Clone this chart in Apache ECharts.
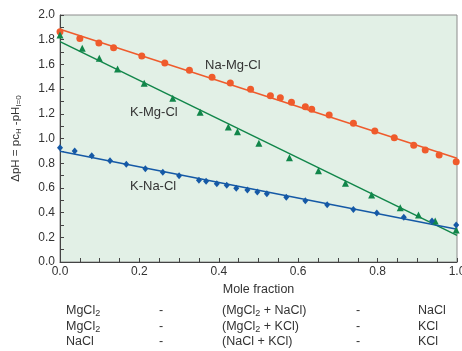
<!DOCTYPE html>
<html><head><meta charset="utf-8">
<script src="https://cdn.jsdelivr.net/npm/echarts@6/dist/echarts.min.js"></script>
<style>html,body{margin:0;padding:0;background:#fff}#c{width:462px;height:351px}</style>
</head><body><div id="c"></div>
<script>
// Na-Mg-Cl (orange circles)
const naMgX = [0.0, 0.05, 0.098, 0.135, 0.206, 0.264, 0.326, 0.383, 0.429, 0.480, 0.530, 0.555, 0.583, 0.618, 0.634, 0.678, 0.739, 0.793, 0.842, 0.891, 0.920, 0.955, 0.998];
const naMgY = [1.865, 1.81, 1.773, 1.735, 1.668, 1.611, 1.552, 1.495, 1.449, 1.398, 1.347, 1.330, 1.293, 1.258, 1.236, 1.19, 1.123, 1.061, 1.006, 0.945, 0.907, 0.866, 0.812];
// K-Mg-Cl (green triangles)
const kMgX = [0.0, 0.056, 0.099, 0.145, 0.212, 0.284, 0.353, 0.424, 0.447, 0.501, 0.578, 0.651, 0.719, 0.785, 0.857, 0.903, 0.945, 0.998];
const kMgY = [1.838, 1.73, 1.649, 1.563, 1.447, 1.325, 1.212, 1.093, 1.055, 0.961, 0.845, 0.739, 0.637, 0.543, 0.44, 0.381, 0.332, 0.259];
// K-Na-Cl (blue diamonds)
const kNaX = [0.0, 0.037, 0.08, 0.126, 0.167, 0.215, 0.259, 0.3, 0.35, 0.368, 0.395, 0.42, 0.444, 0.472, 0.497, 0.521, 0.57, 0.618, 0.673, 0.739, 0.798, 0.866, 0.937, 0.998];
const kNaY = [0.926, 0.899, 0.861, 0.82, 0.791, 0.756, 0.726, 0.699, 0.661, 0.653, 0.634, 0.621, 0.597, 0.583, 0.567, 0.553, 0.524, 0.496, 0.464, 0.426, 0.397, 0.362, 0.332, 0.3];
// Linear fits (end points)
const fitX = [0, 1];
const naMgFitY = [1.885, 0.84];
const kMgFitY = [1.785, 0.215];
const kNaFitY = [0.896, 0.265];
// Labels
const seriesNames = ['Na-Mg-Cl', 'K-Mg-Cl', 'K-Na-Cl'];
const xName = 'Mole fraction';
const tableRows = [
  ['MgCl{s|2}', '-', '(MgCl{s|2} + NaCl)', '-', 'NaCl'],
  ['MgCl{s|2}', '-', '(MgCl{s|2} + KCl)', '-', 'KCl'],
  ['NaCl', '-', '(NaCl + KCl)', '-', 'KCl']
];

const zip = (xs, ys) => xs.map((x, i) => [x, ys[i]]);
const C_OR = '#ef5b2c', C_GR = '#11864a', C_BL = '#1559a6';
const FONT = 'Liberation Sans, Arial, sans-serif';
const TXT = '#333';

const chart = echarts.init(document.getElementById('c'), null, {renderer: 'canvas'});
const fmt1 = v => (Math.abs(v / 0.2 - Math.round(v / 0.2)) < 1e-6) ? v.toFixed(1) : '';

const colX = [66, 159, 222, 356, 418];
const rowY = [311, 327, 342];
const graphics = [];
tableRows.forEach((row, r) => {
  row.forEach((t, c) => {
    graphics.push({
      type: 'text', left: colX[c], top: rowY[r] - 7,
      style: {text: t, fill: TXT, font: '12.5px ' + FONT,
        rich: {s: {fontSize: 9, fontFamily: FONT, fill: TXT, padding: [7, 0, 0, 0]}}}
    });
  });
});
graphics.push({type: 'text', left: 205, top: 59, style: {text: seriesNames[0], fill: TXT, font: '13px ' + FONT}});
graphics.push({type: 'text', left: 130, top: 106, style: {text: seriesNames[1], fill: TXT, font: '13px ' + FONT}});
graphics.push({type: 'text', left: 130, top: 180, style: {text: seriesNames[2], fill: TXT, font: '13px ' + FONT}});

chart.setOption({
  animation: false,
  backgroundColor: '#fff',
  grid: {left: 60, right: 5, top: 15, bottom: 89, containLabel: false, outerBoundsMode: 'none',
    show: true, backgroundColor: '#e2f0e6', borderColor: '#8c8c8c', borderWidth: 1},
  xAxis: {
    type: 'value', min: 0, max: 1, interval: 0.05,
    name: xName, nameLocation: 'middle', nameGap: 20,
    nameTextStyle: {color: TXT, fontSize: 12.5, fontFamily: FONT},
    axisLine: {lineStyle: {color: '#444', width: 1}},
    axisTick: {inside: true, length: 4, lineStyle: {color: '#444'}},
    axisLabel: {formatter: fmt1, color: TXT, fontSize: 12, fontFamily: FONT, margin: 4, showMaxLabel: true, hideOverlap: false},
    splitLine: {show: false}
  },
  yAxis: {
    type: 'value', min: 0, max: 2, interval: 0.1,
    name: 'ΔpH = pc{s|H} -pH{s|I=0}', nameLocation: 'middle', nameGap: 37, nameRotate: 90,
    nameTextStyle: {color: TXT, fontSize: 11.5, fontFamily: FONT,
      rich: {s: {fontSize: 8, fontFamily: FONT, color: TXT, padding: [6, 0, 0, 0]}}},
    axisLine: {lineStyle: {color: '#444', width: 1}},
    axisTick: {inside: true, length: 4, lineStyle: {color: '#444'}},
    axisLabel: {formatter: fmt1, color: TXT, fontSize: 12, fontFamily: FONT, margin: 5},
    splitLine: {show: false}
  },
  graphic: graphics,
  series: [
    {type: 'line', data: zip(fitX, naMgFitY), symbol: 'none', lineStyle: {color: C_OR, width: 1.5}, z: 2},
    {type: 'line', data: zip(fitX, kMgFitY), symbol: 'none', lineStyle: {color: C_GR, width: 1.5}, z: 2},
    {type: 'line', data: zip(fitX, kNaFitY), symbol: 'none', lineStyle: {color: C_BL, width: 1.5}, z: 2},
    {type: 'scatter', name: seriesNames[0], data: zip(naMgX, naMgY), symbol: 'circle', symbolSize: 7, itemStyle: {color: C_OR, opacity: 1}, z: 3},
    {type: 'scatter', name: seriesNames[1], data: zip(kMgX, kMgY), symbol: 'triangle', symbolSize: 7, itemStyle: {color: C_GR, opacity: 1}, z: 3},
    {type: 'scatter', name: seriesNames[2], data: zip(kNaX, kNaY), symbol: 'diamond', symbolSize: [6, 7], itemStyle: {color: C_BL, opacity: 1}, z: 3}
  ]
});
</script></body></html>
